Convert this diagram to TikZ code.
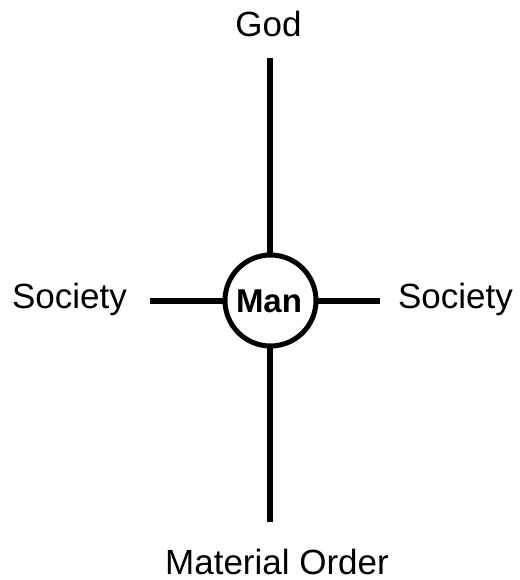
\documentclass[tikz,border=0pt]{standalone}
\usepackage{fontspec}
\setmainfont{Liberation Sans}
\begin{document}
\begin{tikzpicture}[x=1pt,y=-1pt,
  lbl/.style={anchor=base,inner sep=0pt,font=\fontsize{35}{40}\selectfont},
  hub/.style={circle,draw=black,line width=5pt,minimum size=91pt,inner sep=0pt,fill=white},
  hubtext/.style={anchor=base,inner sep=0pt,font=\fontsize{33}{38}\selectfont\bfseries},
  spoke/.style={line width=6pt,black}]
\useasboundingbox (0,0) rectangle (519,580);
\coordinate (top) at (270,58);
\coordinate (bot) at (270,522);
\coordinate (lft) at (150,300.5);
\coordinate (rgt) at (380,300.5);
\draw[spoke] (top) -- (bot);
\draw[spoke] (lft) -- (rgt);
\node[hub] (man) at (270.5,300.5) {};
\node[hubtext] (mantext) at (269,312) {Man};
\node[lbl] (god) at (268.5,37) {God};
\node[lbl] (socl) at (69.5,308) {Society};
\node[lbl] (socr) at (455.5,308) {Society};
\node[lbl] (mat) at (277,574) {Material Order};
\end{tikzpicture}
\end{document}
